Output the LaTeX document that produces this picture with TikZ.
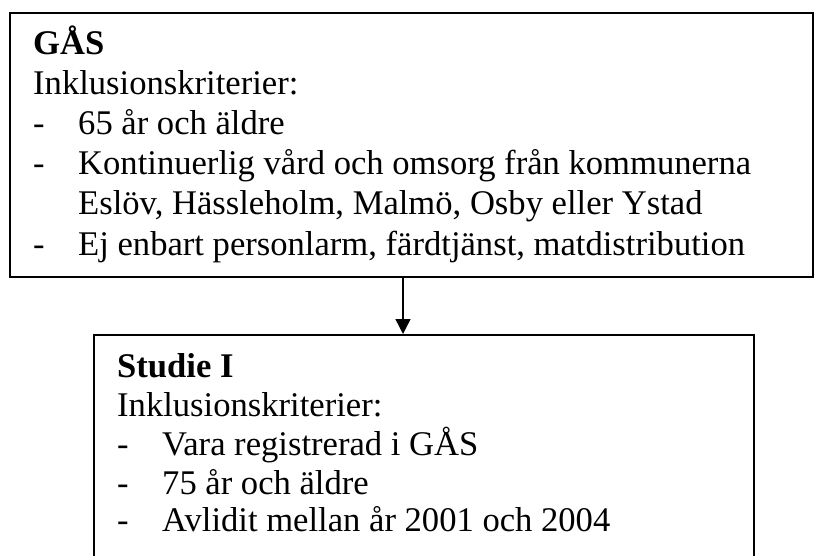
\documentclass[tikz,border=0pt]{standalone}
\usepackage{fontspec}
\setmainfont{Liberation Serif}
\usetikzlibrary{arrows.meta}
\begin{document}
\begin{tikzpicture}[x=1pt,y=-1pt,
  boxframe/.style={draw, line width=1.6pt, rectangle, inner sep=0pt, anchor=north west},
  txt/.style={anchor=base west, inner sep=0pt, font=\fontsize{34.6}{40}\selectfont},
  arr/.style={line width=1.4pt, -{Triangle[length=15pt,width=15pt]}}]
\useasboundingbox (0,0) rectangle (814,556);
\clip (0,0) rectangle (814,556);
\fill[white] (0,0) rectangle (814,556);
% top box
\node[boxframe, minimum width=803pt, minimum height=264pt] (gas) at (9,12) {};
\node[txt] (g1) at (33,55) {\textbf{GÅS}};
\node[txt] (g2) at (33,95) {Inklusionskriterier:};
\node[txt] (g3d) at (33,135) {-};
\node[txt] (g3) at (78,135) {65 år och äldre};
\node[txt] (g4d) at (33,175) {-};
\node[txt] (g4) at (78,175) {Kontinuerlig vård och omsorg från kommunerna};
\node[txt] (g5) at (78,215) {Eslöv, Hässleholm, Malmö, Osby eller Ystad};
\node[txt] (g6d) at (33,255) {-};
\node[txt] (g6) at (78,255) {Ej enbart personlarm, färdtjänst, matdistribution};
% bottom box
\node[boxframe, minimum width=660pt, minimum height=260pt] (st) at (93,334) {};
\node[txt] (s1) at (117,377) {\textbf{Studie I}};
\node[txt] (s2) at (117,416) {Inklusionskriterier:};
\node[txt] (s3d) at (117,455) {-};
\node[txt] (s3) at (162,455) {Vara registrerad i GÅS};
\node[txt] (s4d) at (117,494) {-};
\node[txt] (s4) at (162,494) {75 år och äldre};
\node[txt] (s5d) at (117,531) {-};
\node[txt] (s5) at (162,531) {Avlidit mellan år 2001 och 2004};
% arrow
\coordinate (ax) at (403,300);
\draw[arr] (gas.south -| ax) -- (st.north -| ax);
\end{tikzpicture}
\end{document}
